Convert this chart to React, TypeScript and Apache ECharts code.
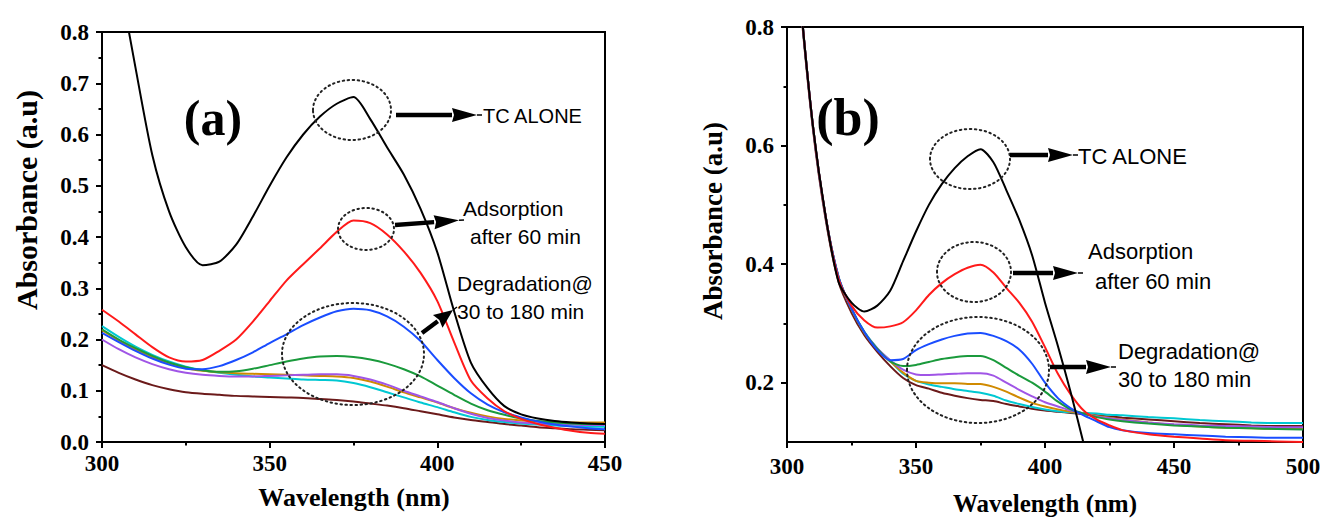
import React, { useEffect, useRef } from "react";
import * as echarts from "echarts";

// ---------- Panel (a) data ----------
const waveA = [300, 305, 310, 315, 320, 325, 330, 335, 340, 345, 350, 355, 360, 365, 370, 375, 380, 385, 390, 395, 400, 405, 410, 415, 420, 425, 430, 435, 440, 445, 450];
const aTcAlone = [1.1, 0.91, 0.73, 0.56, 0.45, 0.38, 0.345, 0.352, 0.385, 0.44, 0.5, 0.555, 0.6, 0.635, 0.66, 0.673, 0.63, 0.575, 0.522, 0.455, 0.37, 0.255, 0.155, 0.105, 0.07, 0.054, 0.046, 0.041, 0.038, 0.036, 0.035];
const aAdsorption = [0.258, 0.235, 0.21, 0.185, 0.165, 0.157, 0.16, 0.178, 0.2, 0.235, 0.275, 0.315, 0.347, 0.378, 0.41, 0.432, 0.427, 0.405, 0.372, 0.33, 0.275, 0.195, 0.12, 0.085, 0.06, 0.045, 0.035, 0.028, 0.022, 0.018, 0.016];
const aDeg30 = [0.213, 0.195, 0.178, 0.163, 0.151, 0.143, 0.142, 0.148, 0.16, 0.175, 0.193, 0.21, 0.228, 0.243, 0.255, 0.26, 0.257, 0.245, 0.225, 0.197, 0.16, 0.125, 0.095, 0.073, 0.058, 0.048, 0.04, 0.034, 0.03, 0.027, 0.025];
const aDeg60 = [0.22, 0.2, 0.183, 0.168, 0.155, 0.146, 0.14, 0.137, 0.138, 0.143, 0.15, 0.157, 0.163, 0.167, 0.168, 0.166, 0.161, 0.153, 0.142, 0.128, 0.11, 0.092, 0.075, 0.062, 0.053, 0.046, 0.041, 0.038, 0.036, 0.035, 0.035];
const aDeg90 = [0.2, 0.181, 0.165, 0.152, 0.142, 0.135, 0.131, 0.129, 0.128, 0.128, 0.129, 0.13, 0.131, 0.132, 0.132, 0.129, 0.122, 0.112, 0.1, 0.089, 0.078, 0.066, 0.055, 0.047, 0.042, 0.038, 0.036, 0.035, 0.034, 0.033, 0.033];
const aDeg120 = [0.218, 0.198, 0.18, 0.165, 0.153, 0.144, 0.139, 0.136, 0.134, 0.133, 0.132, 0.131, 0.13, 0.129, 0.128, 0.125, 0.118, 0.108, 0.097, 0.087, 0.077, 0.066, 0.057, 0.05, 0.045, 0.042, 0.04, 0.039, 0.038, 0.038, 0.038];
const aDeg150 = [0.226, 0.205, 0.186, 0.17, 0.157, 0.147, 0.14, 0.135, 0.131, 0.128, 0.126, 0.124, 0.122, 0.121, 0.12, 0.115, 0.107, 0.097, 0.087, 0.077, 0.068, 0.058, 0.049, 0.043, 0.039, 0.036, 0.034, 0.032, 0.031, 0.03, 0.03];
const aDeg180 = [0.15, 0.135, 0.122, 0.111, 0.103, 0.097, 0.094, 0.092, 0.09, 0.089, 0.088, 0.087, 0.086, 0.084, 0.082, 0.079, 0.075, 0.071, 0.066, 0.06, 0.054, 0.048, 0.043, 0.039, 0.035, 0.032, 0.029, 0.027, 0.025, 0.024, 0.023];

// ---------- Panel (b) data ----------
const waveB = [300, 305, 310, 315, 320, 325, 330, 335, 340, 345, 350, 355, 360, 365, 370, 375, 380, 385, 390, 395, 400, 405, 410, 415, 420, 425, 430, 440, 450, 460, 470, 480, 490, 500];
const bTcAlone = [1.12, 0.855, 0.635, 0.48, 0.37, 0.335, 0.32, 0.33, 0.355, 0.405, 0.455, 0.5, 0.535, 0.562, 0.582, 0.594, 0.572, 0.525, 0.475, 0.415, 0.335, 0.262, 0.183, 0.097, 0.01];
const bAdsorption = [1.12, 0.855, 0.635, 0.48, 0.375, 0.33, 0.305, 0.293, 0.295, 0.302, 0.322, 0.348, 0.368, 0.383, 0.394, 0.399, 0.386, 0.36, 0.335, 0.303, 0.26, 0.215, 0.18, 0.153, 0.138, 0.128, 0.12, 0.113, 0.109, 0.106, 0.103, 0.102, 0.101, 0.1];
const bDeg30 = [1.12, 0.855, 0.635, 0.48, 0.378, 0.325, 0.285, 0.255, 0.238, 0.24, 0.255, 0.265, 0.273, 0.279, 0.283, 0.284, 0.279, 0.27, 0.256, 0.232, 0.2, 0.174, 0.157, 0.145, 0.135, 0.125, 0.12, 0.115, 0.113, 0.111, 0.109, 0.108, 0.107, 0.107];
const bDeg60 = [1.12, 0.855, 0.635, 0.48, 0.378, 0.325, 0.285, 0.257, 0.236, 0.228, 0.23, 0.235, 0.24, 0.243, 0.245, 0.245, 0.238, 0.225, 0.212, 0.2, 0.185, 0.168, 0.155, 0.148, 0.142, 0.138, 0.135, 0.131, 0.128, 0.126, 0.124, 0.123, 0.122, 0.121];
const bDeg90 = [1.12, 0.855, 0.635, 0.48, 0.378, 0.325, 0.285, 0.258, 0.238, 0.222, 0.214, 0.213, 0.214, 0.215, 0.216, 0.216, 0.212, 0.2, 0.188, 0.177, 0.167, 0.16, 0.153, 0.148, 0.143, 0.14, 0.137, 0.133, 0.13, 0.128, 0.127, 0.126, 0.125, 0.125];
const bDeg120 = [1.12, 0.855, 0.635, 0.48, 0.377, 0.324, 0.284, 0.257, 0.236, 0.217, 0.203, 0.2, 0.199, 0.199, 0.198, 0.198, 0.193, 0.185, 0.175, 0.166, 0.16, 0.155, 0.151, 0.148, 0.144, 0.141, 0.138, 0.133, 0.129, 0.126, 0.124, 0.123, 0.122, 0.122];
const bDeg150 = [1.12, 0.855, 0.635, 0.48, 0.377, 0.325, 0.286, 0.258, 0.237, 0.215, 0.203, 0.197, 0.193, 0.189, 0.186, 0.183, 0.178, 0.17, 0.164, 0.159, 0.155, 0.152, 0.15, 0.149, 0.148, 0.146, 0.145, 0.142, 0.14, 0.137, 0.135, 0.133, 0.132, 0.132];
const bDeg180 = [1.12, 0.85, 0.63, 0.475, 0.37, 0.318, 0.28, 0.252, 0.228, 0.208, 0.196, 0.19, 0.183, 0.178, 0.174, 0.171, 0.169, 0.164, 0.16, 0.156, 0.153, 0.151, 0.149, 0.147, 0.145, 0.143, 0.141, 0.138, 0.135, 0.132, 0.13, 0.128, 0.127, 0.127];

// ---------- Axis ticks ----------
const aYTicks = [0, 0.1, 0.2, 0.3, 0.4, 0.5, 0.6, 0.7, 0.8];
const bYMajor = [0.2, 0.4, 0.6, 0.8];
const bYMinor = [0.3, 0.5, 0.7];

const seriesColors = ["#6b1a1a", "#00c8d2", "#d08a00", "#a055e6", "#1a9a3c", "#1a4dff", "#ff1a1a", "#000000"];

const SERIF = "'Times New Roman', 'Liberation Serif', serif";
const SANS = "Arial, 'Liberation Sans', sans-serif";

function zip(x: number[], y: number[]) {
  return y.map((v, i) => [x[i], v]);
}

function arrow(x1: number, y1: number, x2: number, y2: number, headLen = 30, headW = 7) {
  const dx = x2 - x1, dy = y2 - y1;
  const L = Math.hypot(dx, dy);
  const ux = dx / L, uy = dy / L;
  const nx = -uy, ny = ux;
  const bx = x2 - ux * headLen, by = y2 - uy * headLen;
  const tx = x2 - ux * 5, ty = y2 - uy * 5;
  const t = 2.2;
  return [
    {
      type: "polygon", z: 100,
      shape: { points: [[x1 + nx * t, y1 + ny * t], [bx + nx * t, by + ny * t], [bx - nx * t, by - ny * t], [x1 - nx * t, y1 - ny * t]] },
      style: { fill: "#000" },
    },
    {
      type: "polygon", z: 100,
      shape: { points: [[bx + nx * headW, by + ny * headW], [tx, ty], [bx - nx * headW, by - ny * headW], [bx + ux * 2, by + uy * 2]] },
      style: { fill: "#000" },
    },
    {
      type: "line", z: 100,
      shape: { x1: tx, y1: ty, x2, y2 },
      style: { stroke: "#000", lineWidth: 1.5 },
    },
  ];
}

function ellipse(cx: number, cy: number, rx: number, ry: number) {
  return {
    type: "ellipse", z: 100,
    shape: { cx, cy, rx, ry },
    style: { fill: "none", stroke: "#222", lineWidth: 2, lineDash: [1.5, 3.5], lineCap: "round" },
  };
}

function label(text: string, x: number, y: number, size: number, font = SANS, weight = "normal") {
  return {
    type: "text", z: 100, x, y,
    style: { text, fill: "#000", font: `${weight} ${size}px ${font}`, align: "left", verticalAlign: "middle" },
  };
}

function centered(text: string, x: number, y: number, size: number, rotation = 0) {
  return {
    type: "text", z: 100, x, y, rotation,
    style: { text, fill: "#000", font: `bold ${size}px ${SERIF}`, align: "center", verticalAlign: "middle" },
  };
}

export default function App() {
  const ref = useRef<HTMLDivElement>(null);
  useEffect(() => {
    if (!ref.current) return;
    const chart = echarts.init(ref.current, undefined, { renderer: "svg" });

    const axisLine = { show: true, lineStyle: { color: "#000", width: 2 } };
    const axisTick = { show: true, inside: false, length: 6, lineStyle: { color: "#000", width: 2 } };
    const minorTick = { show: true, splitNumber: 2, length: 3.5, lineStyle: { color: "#000", width: 2 } };
    const tickFont = { color: "#000", fontFamily: "Liberation Serif", fontWeight: "bold" as const, fontSize: 23 };

    const aSets = [aDeg180, aDeg150, aDeg120, aDeg90, aDeg60, aDeg30, aAdsorption, aTcAlone];
    const bSets = [bDeg180, bDeg150, bDeg120, bDeg90, bDeg60, bDeg30, bAdsorption, bTcAlone];
    const names = ["180 min", "150 min", "120 min", "90 min", "60 min", "30 min", "Adsorption", "TC alone"];

    const series: any[] = [];
    aSets.forEach((ys, i) => {
      series.push({
        type: "line", name: "(a) " + names[i], xAxisIndex: 0, yAxisIndex: 0,
        data: zip(waveA, ys), showSymbol: false, smooth: 0.25, clip: true,
        lineStyle: { color: seriesColors[i], width: 2 }, itemStyle: { color: seriesColors[i] },
      });
    });
    bSets.forEach((ys, i) => {
      series.push({
        type: "line", name: "(b) " + names[i], xAxisIndex: 1, yAxisIndex: 1,
        data: zip(waveB, ys), showSymbol: false, smooth: 0.25, clip: true,
        lineStyle: { color: seriesColors[i], width: 2 }, itemStyle: { color: seriesColors[i] },
      });
    });

    const graphics: any[] = [
      ellipse(352, 110, 39, 30),
      ellipse(366, 229, 28, 21),
      ellipse(353, 354, 71, 51),
      ellipse(970, 159, 40, 30),
      ellipse(974, 272, 37, 30),
      ellipse(978, 370, 71, 53),
      ...arrow(396, 115, 482, 115),
      ...arrow(395, 225, 464, 220),
      ...arrow(422, 333, 457, 307, 24, 8),
      ...arrow(1010, 155, 1078, 155),
      ...arrow(1013, 273, 1083, 273),
      ...arrow(1050, 367, 1116, 367),
      label("TC ALONE", 483, 116, 20),
      label("Adsorption", 463, 208, 21),
      label("after 60 min", 470, 236, 21),
      label("Degradation@", 457, 283, 21),
      label("30 to 180 min", 457, 311, 21),
      label("TC ALONE", 1078, 156, 22),
      label("Adsorption", 1088, 251, 22),
      label("after 60 min", 1095, 281, 22),
      label("Degradation@", 1118, 351, 22),
      label("30 to 180 min", 1118, 379, 22),
      centered("(a)", 213, 118, 50),
      centered("(b)", 848, 117, 52),
      centered("Absorbance (a.u)", 26, 200, 30, Math.PI / 2),
      centered("Absorbance (a.u)", 713, 221, 27, Math.PI / 2),
      centered("Wavelength (nm)", 354, 497, 26),
      centered("Wavelength (nm)", 1045, 503, 25),
    ];

    chart.setOption({
      animation: false,
      backgroundColor: "#fff",
      grid: [
        { left: 102, top: 32, width: 503, height: 410, show: true, borderColor: "#000", borderWidth: 2, backgroundColor: "transparent" },
        { left: 787, top: 27, width: 516, height: 415, show: true, borderColor: "#000", borderWidth: 2, backgroundColor: "transparent" },
      ],
      xAxis: [
        {
          type: "value", gridIndex: 0, min: 300, max: 450, interval: 50,
          axisLine, axisTick, minorTick, splitLine: { show: false }, minorSplitLine: { show: false },
          axisLabel: { ...tickFont, margin: 10 },
        },
        {
          type: "value", gridIndex: 1, min: 300, max: 500, interval: 50,
          axisLine, axisTick, minorTick, splitLine: { show: false }, minorSplitLine: { show: false },
          axisLabel: { ...tickFont, margin: 13 },
        },
      ],
      yAxis: [
        {
          type: "value", gridIndex: 0, min: 0, max: 0.8, interval: 0.1,
          axisLine, axisTick, minorTick, splitLine: { show: false }, minorSplitLine: { show: false },
          axisLabel: { ...tickFont, margin: 13, formatter: (v: number) => (aYTicks.some((t) => Math.abs(t - v) < 1e-6) ? v.toFixed(1) : "") },
        },
        {
          type: "value", gridIndex: 1, position: "left", min: 0.1, max: 0.8, interval: 0.1,
          axisLine, splitLine: { show: false },
          axisTick: { ...axisTick, customValues: bYMajor },
          axisLabel: { ...tickFont, margin: 13, customValues: bYMajor, formatter: (v: number) => v.toFixed(1) },
        },
        {
          type: "value", gridIndex: 1, position: "left", offset: 0, min: 0.1, max: 0.8, interval: 0.1,
          axisLine: { show: false }, splitLine: { show: false },
          axisTick: { show: true, length: 3.5, customValues: bYMinor, lineStyle: { color: "#000", width: 2 } },
          axisLabel: { show: false },
        },
      ],
      series,
      graphic: graphics,
    });
    return () => chart.dispose();
  }, []);
  return <div ref={ref} style={{ position: "absolute", left: 0, top: 0, width: 1325, height: 519 }} />;
}
